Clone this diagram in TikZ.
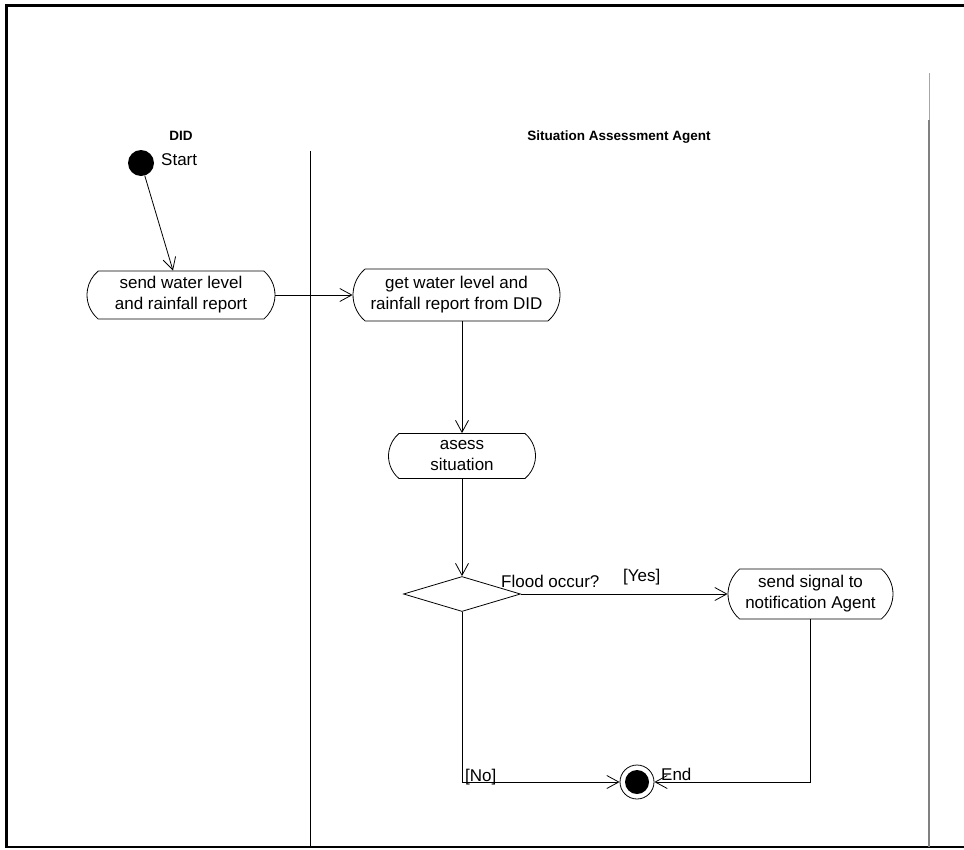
\documentclass[tikz,border=0pt]{standalone}
\usepackage{fontspec}
\setmainfont{Liberation Sans}
\usetikzlibrary{shapes.misc,shapes.geometric,arrows.meta,calc}
\begin{document}
\begin{tikzpicture}[x=1pt,y=-1pt,
  act/.style={rounded rectangle, rounded rectangle arc length=100, draw, line width=0.8pt,
    align=center, inner sep=0pt, font=\fontsize{17}{21}\selectfont},
  flow/.style={draw, line width=0.8pt, -{Straight Barb[length=12pt,width=13pt,line width=0.8pt]}},
  plain/.style={draw, line width=0.8pt},
  lbl/.style={font=\fontsize{17}{21}\selectfont, inner sep=0pt},
  lanehead/.style={font=\bfseries\fontsize{13.5}{16}\selectfont, inner sep=0pt}]
\useasboundingbox (0,0) rectangle (964,849);
\fill[white] (0,0) rectangle (964,849);
% frame and lanes
\draw[line width=2.2pt] (965,5.5) -- (6.5,5.5) -- (6.5,847) -- (965,847);
\draw[line width=1pt] (310,151) -- (310,847);
\draw[line width=0.8pt, gray!70] (929,73) -- (929,120);
\draw[line width=1.4pt, gray] (929,120) -- (929,847);
% lane headers
\node[lanehead, anchor=base] (hdid) at (181,140) {DID};
\node[lanehead, anchor=base] (hsaa) at (619,140) {Situation Assessment Agent};
% nodes
\node[circle, fill=black, minimum size=26pt, inner sep=0pt] (start) at (141,163) {};
\node[lbl, anchor=base west] (lstart) at (161,165) {Start};
\node[act, minimum width=188pt, minimum height=48pt] (a1) at (181,295) {send water level\\and rainfall report};
\node[act, minimum width=207pt, minimum height=52pt] (a2) at (456.5,295) {get water level and\\rainfall report from DID};
\node[act, minimum width=147pt, minimum height=45pt] (a3) at (462,456) {asess\\situation};
\node[diamond, draw, line width=0.8pt, minimum width=117pt, minimum height=35pt, inner sep=0pt] (dec) at (462,594) {};
\node[act, minimum width=165pt, minimum height=50pt] (a4) at (810.5,594) {send signal to\\notification Agent};
\node[circle, draw, line width=0.8pt, minimum size=34pt, inner sep=0pt] (end) at (637,782) {};
\fill (end.center) circle (12);
% labels
\node[lbl, anchor=base west] (lflood) at (501,587) {Flood occur?};
\node[lbl, anchor=base west] (lyes) at (623,581) {[Yes]};
\node[lbl, anchor=base west] (lno) at (465,781) {[No]};
\node[lbl, anchor=base west] (lend) at (661,780) {End};
% connectors
\coordinate (a1in) at ($(a1.north)+(-8,0)$);
\draw[flow] (start) -- (a1in);
\draw[flow] (a1.east) -- (a2.west);
\draw[flow] (a2.south -| a3.north) -- (a3.north);
\draw[flow] (a3.south) -- (dec.north);
\draw[flow] (dec.east) -- (a4.west);
\draw[flow] (dec.south) |- (end.west);
\draw[flow] (a4.south) |- (end.east);
\end{tikzpicture}
\end{document}
